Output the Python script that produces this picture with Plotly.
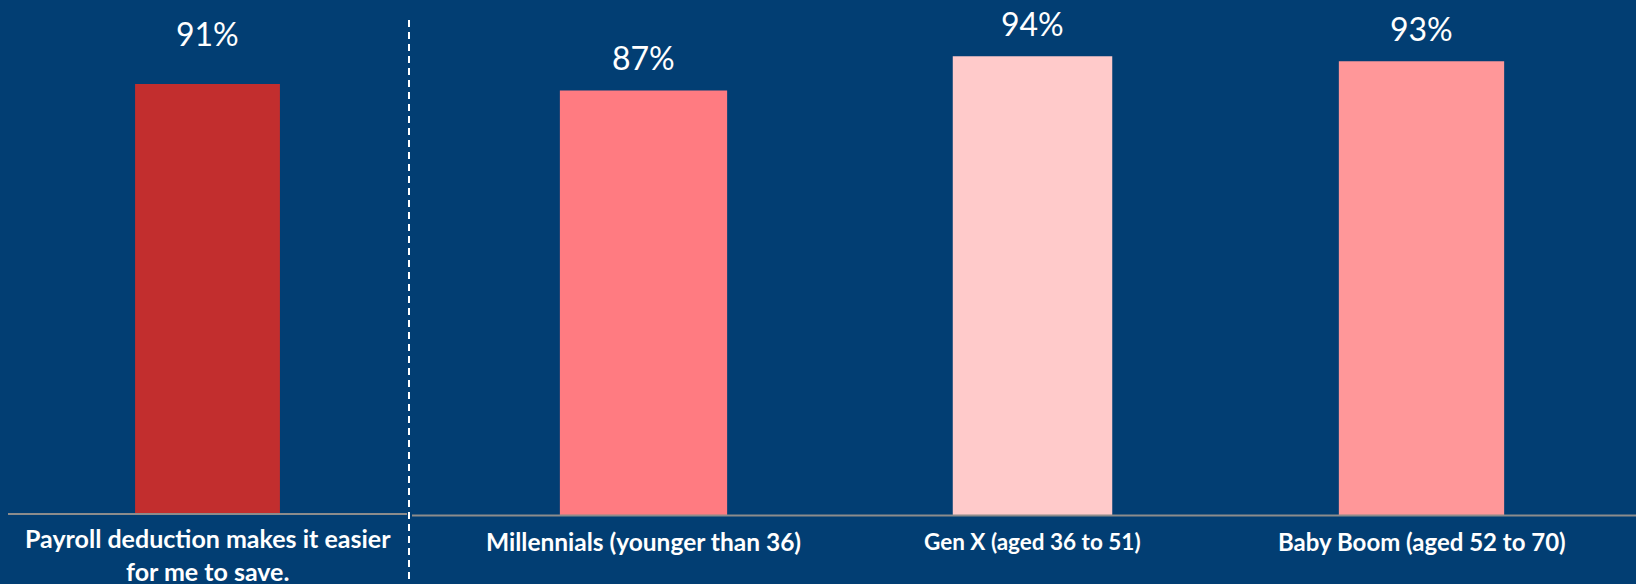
import plotly.graph_objects as go

# ---- data ----
left_categories = ["Payroll deduction makes it easier<br>for me to save."]
left_values = [91]
right_categories = ["Millennials (younger than 36)", "Gen X (aged 36 to 51)", "Baby Boom (aged 52 to 70)"]
right_values = [87, 94, 93]

# ---- styles ----
W, H = 1636, 584
BG = "#023E73"
left_colors = ["#C22E2E"]
right_colors = ["#FF7B81", "#FFCACA", "#FF9799"]
right_widths = [0.43, 0.41, 0.425]
right_label_sizes = [24.5, 22.5, 24]
FONT = "Lato"

def px_x(p):
    return p / W

def px_y(p):
    return (H - p) / H

fig = go.Figure()

fig.add_trace(go.Bar(
    x=left_categories, y=left_values, marker=dict(color=left_colors, line=dict(width=0)),
    xaxis="x", yaxis="y", width=[0.363], hoverinfo="skip",
))
fig.add_trace(go.Bar(
    x=right_categories, y=right_values, marker=dict(color=right_colors, line=dict(width=0)),
    xaxis="x2", yaxis="y2", width=right_widths, hoverinfo="skip",
))

annotations = []
for c, v in zip(left_categories, left_values):
    annotations.append(dict(x=c, y=v, xref="x", yref="y", text=f"{v}%", showarrow=False,
                            yanchor="middle", yshift=51,
                            font=dict(family=FONT, size=32, color="white")))
    annotations.append(dict(x=c, y=px_y(521), xref="x", yref="paper", text=f"<b>{c}</b>",
                            showarrow=False, yanchor="top",
                            font=dict(family=FONT, size=25, color="white")))
for c, v, s in zip(right_categories, right_values, right_label_sizes):
    annotations.append(dict(x=c, y=v, xref="x2", yref="y2", text=f"{v}%", showarrow=False,
                            yanchor="middle", yshift=33,
                            font=dict(family=FONT, size=32, color="white")))
    annotations.append(dict(x=c, y=px_y(541), xref="x2", yref="paper", text=f"<b>{c}</b>",
                            showarrow=False, yanchor="middle",
                            font=dict(family=FONT, size=s, color="white")))

shapes = [
    dict(type="line", xref="paper", yref="paper", x0=px_x(8), x1=px_x(407),
         y0=px_y(514), y1=px_y(514), line=dict(color="#8C8C8C", width=2)),
    dict(type="line", xref="paper", yref="paper", x0=px_x(412), x1=1,
         y0=px_y(515.5), y1=px_y(515.5), line=dict(color="#8C8C8C", width=2)),
    dict(type="line", xref="paper", yref="paper", x0=px_x(409), x1=px_x(409),
         y0=px_y(20), y1=0, line=dict(color="white", width=2, dash="7px,5px")),
]

axis_common = dict(showgrid=False, zeroline=False, showline=False, showticklabels=False, ticks="", fixedrange=True)

fig.update_layout(
    width=W, height=H,
    margin=dict(l=0, r=0, t=0, b=0),
    paper_bgcolor=BG, plot_bgcolor=BG,
    showlegend=False,
    xaxis=dict(domain=[px_x(8), px_x(407)], **axis_common),
    yaxis=dict(domain=[px_y(514), px_y(41.5)], range=[0, 100], anchor="x", **axis_common),
    xaxis2=dict(domain=[px_x(449), px_x(1616)], anchor="y2", **axis_common),
    yaxis2=dict(domain=[px_y(516), px_y(27)], range=[0, 100], anchor="x2", **axis_common),
    annotations=annotations,
    shapes=shapes,
)

fig.write_html("out.html")
